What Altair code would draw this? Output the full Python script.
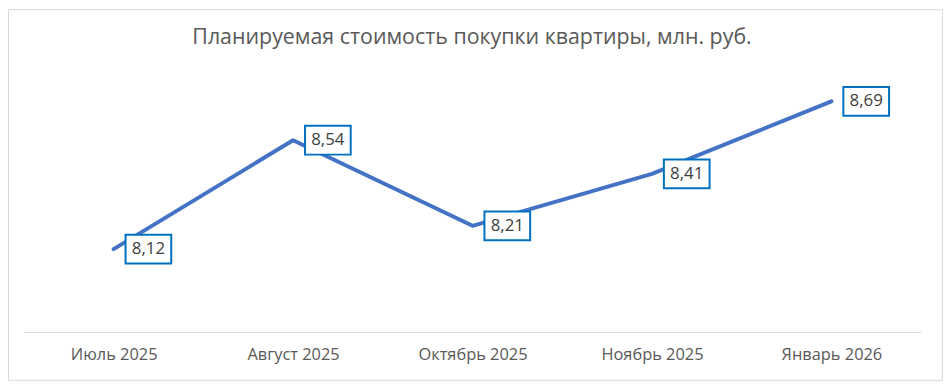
import altair as alt
import pandas as pd

months = ["Июль 2025", "Август 2025", "Октябрь 2025", "Ноябрь 2025", "Январь 2026"]
values = [8.12, 8.54, 8.21, 8.41, 8.69]
labels = ["8,12", "8,54", "8,21", "8,41", "8,69"]
title_text = "Планируемая стоимость покупки квартиры, млн. руб."

df = pd.DataFrame({"month": months, "value": values, "label": labels})

FONT = "Open Sans"
W, H = 903, 261

x_enc = alt.X("month:N", sort=months, title=None,
              scale=alt.Scale(type="point", padding=0.5),
              axis=alt.Axis(labelAngle=0, ticks=False, domainColor="#d9d9d9", domainWidth=1,
                            labelColor="#595959", labelFont=FONT, labelFontSize=16.5,
                            labelPadding=15, grid=False))
y_enc = alt.Y("value:Q", scale=alt.Scale(domain=[7.8, 8.8], nice=False, zero=False), axis=None)

base = alt.Chart(df)

line = base.mark_line(color="#4472C4", strokeWidth=4, strokeCap="round", strokeJoin="round").encode(x=x_enc, y=y_enc)

boxes = base.mark_rect(width=46, height=29, xOffset=35, fill="white", stroke="#0070C0", strokeWidth=2).encode(
    x=alt.X("month:N", sort=months), y="value:Q")

texts = base.mark_text(dx=35, align="center", baseline="middle", font=FONT, fontSize=17, color="#404040").encode(
    x=alt.X("month:N", sort=months), y="value:Q", text="label:N")

one = pd.DataFrame({"t": [title_text]})

border = alt.Chart(one).mark_rect(fill=None, stroke="#d9d9d9", strokeWidth=1).encode(
    x=alt.value(-15.5), x2=alt.value(924.5), y=alt.value(-63.5), y2=alt.value(309.5))

title = alt.Chart(one).mark_text(align="center", baseline="middle", font=FONT, fontSize=21.5,
                                 color="#595959").encode(
    x=alt.value(451), y=alt.value(-35), text="t:N")

chart = alt.layer(border, title, line, boxes, texts).properties(
    width=W, height=H,
    padding={"left": 16, "top": 64, "right": 22, "bottom": 49},
    autosize=alt.AutoSizeParams(type="none"),
).configure_view(stroke=None)

chart.save("out.html", embed_options={"renderer": "svg", "actions": False})
